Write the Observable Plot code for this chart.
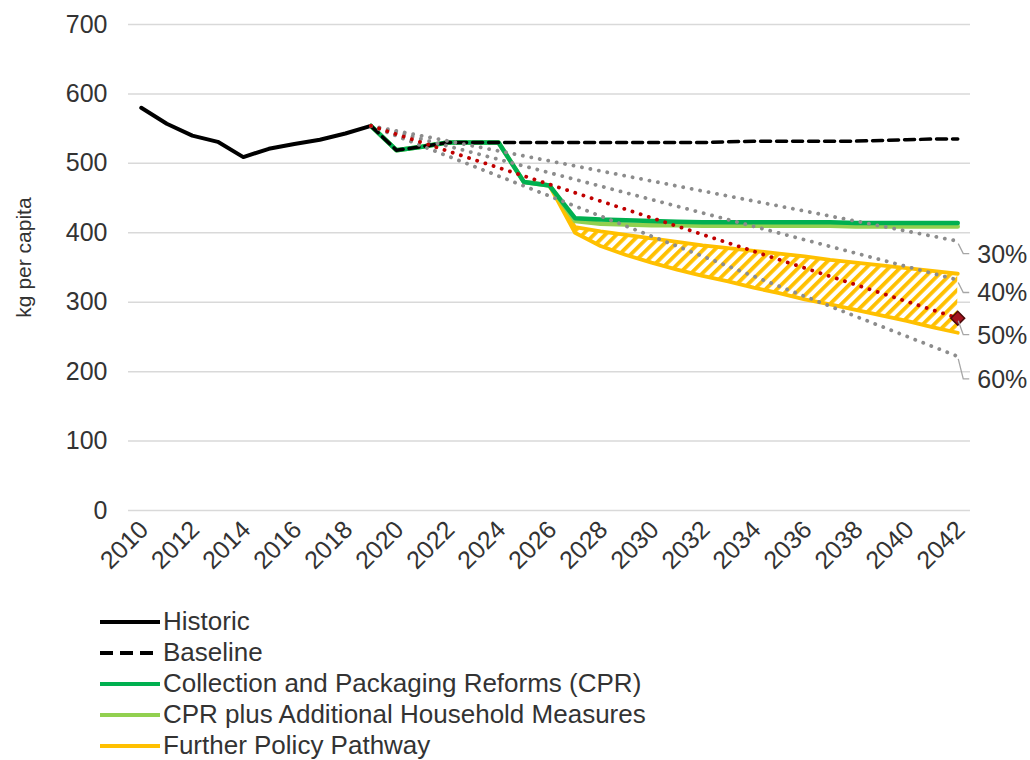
<!DOCTYPE html>
<html>
<head>
<meta charset="utf-8">
<script src="https://cdn.jsdelivr.net/npm/d3@7"></script>
<script src="https://cdn.jsdelivr.net/npm/@observablehq/plot@0.6"></script>
<style>
  body { margin: 0; background: #fff; font-family: "Liberation Sans", Arial, sans-serif; }
  #chart svg { display: block; }
  #legend { margin-left: 100px; color: #333; font-size: 26px; }
  #legend .row { height: 31px; display: flex; align-items: center; }
  #legend svg { display: block; margin-right: 3px; }
</style>
</head>
<body>
<div id="chart"></div>
<div id="legend"></div>
<script>
// ---- data ----
const historicYears = [2010, 2011, 2012, 2013, 2014, 2015, 2016, 2017, 2018, 2019];
const historic = [580, 557, 540, 531, 509, 521, 528, 534, 543, 554];

const projYears = [2019, 2020, 2021, 2022, 2023, 2024, 2025, 2026, 2027, 2028, 2029, 2030,
                   2031, 2032, 2033, 2034, 2035, 2036, 2037, 2038, 2039, 2040, 2041, 2042];
const baseline = [554, 519, 524, 530, 530, 530, 530, 530, 530, 530, 530, 530,
                  530, 530, 531, 532, 532, 532, 532, 532, 533, 534, 535, 535];
const cpr      = [554, 519, 524, 530, 530, 530, 473, 468, 421, 419, 418, 417,
                  416, 415, 415, 415, 415, 415, 415, 414, 414, 414, 414, 414];
const cprPlus  = [554, 519, 524, 530, 530, 530, 473, 468, 417, 413, 412, 411,
                  411, 410, 410, 410, 410, 410, 410, 409, 409, 409, 409, 409];

const fppYears = [2026, 2027, 2028, 2029, 2030, 2031, 2032, 2033, 2034, 2035, 2036, 2037,
                  2038, 2039, 2040, 2041, 2042];
const fppUpper = [468, 408, 402, 397, 392, 387, 382, 378, 374, 370, 366, 361,
                  357, 353, 349, 345, 341];
const fppLower = [468, 400, 381, 368, 357, 347, 338, 330, 321, 313, 304, 297,
                  289, 281, 273, 264, 256];

const targetLabels = ["30%", "40%", "50%", "60%"];
const targetStartYear = 2019;
const targetEndYear = 2042;
const targetStart = 554;
const targetEnd = [388, 332, 277, 222];

const yTicks = [0, 100, 200, 300, 400, 500, 600, 700];
const xTicks = [2010, 2012, 2014, 2016, 2018, 2020, 2022, 2024, 2026, 2028, 2030, 2032,
                2034, 2036, 2038, 2040, 2042];

const legendItems = [
  {label: "Historic", color: "#000000", dash: null},
  {label: "Baseline", color: "#000000", dash: "13,7"},
  {label: "Collection and Packaging Reforms (CPR)", color: "#00B050", dash: null},
  {label: "CPR plus Additional Household Measures", color: "#92D050", dash: null},
  {label: "Further Policy Pathway", color: "#FFC000", dash: null}
];

// ---- tables ----
const hist = historicYears.map((x, i) => ({x, y: historic[i]}));
const proj = projYears.map((x, i) => ({x, base: baseline[i], cpr: cpr[i], plus: cprPlus[i]}));
const fpp = fppYears.map((x, i) => ({x, hi: fppUpper[i], lo: fppLower[i]}));
const targets = targetLabels.flatMap((label, i) => [
  {label, i, x: targetStartYear, y: targetStart},
  {label, i, x: targetEndYear, y: targetEnd[i]}
]);
const grey = targets.filter(d => d.label !== "50%");
const red = targets.filter(d => d.label === "50%");
const ends = targetLabels.map((label, i) => ({label, x: targetEndYear, y: targetEnd[i]}));

// label nudges (pixels) for the end-of-line labels
const nudge = [13, 13, 17, 23];

const font = "Liberation Sans, Arial, sans-serif";

function leaders(index, scales) {
  const g = d3.create("svg:g");
  ends.forEach((d, i) => {
    const x0 = scales.x(d.x), y0 = scales.y(d.y);
    const ly = y0 + nudge[i];
    g.append("path")
      .attr("d", `M${x0 + 1},${y0 + 3}L${x0 + 6},${ly}L${x0 + 12},${ly}`)
      .attr("fill", "none").attr("stroke", "#a6a6a6").attr("stroke-width", 1.3);
    g.append("text")
      .attr("x", x0 + 20).attr("y", ly).attr("dy", "0.36em")
      .attr("text-anchor", "start")
      .attr("font-size", 25).attr("font-family", font).attr("fill", "#333")
      .text(d.label);
  });
  return g.node();
}

const plot = Plot.plot({
  width: 1030,
  height: 606,
  marginLeft: 128,
  marginRight: 60,
  marginTop: 24,
  marginBottom: 96,
  style: {fontFamily: font, fontSize: "25px", color: "#333", background: "white", overflow: "visible"},
  x: {domain: [2009.5, 2042.5], ticks: xTicks, tickFormat: d => String(d)},
  y: {domain: [0, 700], ticks: yTicks},
  marks: [
    Plot.gridY(yTicks, {stroke: "#d9d9d9", strokeOpacity: 1, strokeWidth: 1.5}),
    Plot.axisY(yTicks, {tickSize: 0, tickPadding: 21, fontSize: 25, label: null}),
    Plot.axisX(xTicks, {tickSize: 0, tickPadding: 6, tickRotate: -45, fontSize: 25, label: null, tickFormat: d => String(d)}),
    Plot.text(["kg per capita"], {frameAnchor: "left", dx: -104, dy: -10, rotate: -90, textAnchor: "middle", fontSize: 21, fill: "#333"}),
    Plot.areaY(fpp, {x: "x", y1: "lo", y2: "hi", fill: "url(#hatch)"}),
    Plot.line(fpp, {x: "x", y: "hi", stroke: "#FFC000", strokeWidth: 3.8}),
    Plot.line(fpp, {x: "x", y: "lo", stroke: "#FFC000", strokeWidth: 3.8}),
    Plot.line(proj, {x: "x", y: "plus", stroke: "#92D050", strokeWidth: 4.5}),
    Plot.line(proj, {x: "x", y: "cpr", stroke: "#00B050", strokeWidth: 4.5}),
    Plot.line(proj, {x: "x", y: "base", stroke: "#000", strokeWidth: 3.5, strokeDasharray: "10,6"}),
    Plot.line(hist, {x: "x", y: "y", stroke: "#000", strokeWidth: 4}),
    Plot.line(grey, {x: "x", y: "y", z: "label", stroke: "#8c8c8c", strokeWidth: 3.8, strokeDasharray: "0.1,8.5", strokeLinecap: "round"}),
    Plot.line(red, {x: "x", y: "y", stroke: "#C00000", strokeWidth: 3.8, strokeDasharray: "0.1,8.5", strokeLinecap: "round"}),
    Plot.dot(red.filter(d => d.x === targetEndYear), {x: "x", y: "y", symbol: "square", rotate: 45, r: 5.5, fill: "#A5121E", stroke: "#4a0a0a", strokeWidth: 1.5}),
    leaders
  ]
});

// hatch pattern definition
const ns = "http://www.w3.org/2000/svg";
const defs = document.createElementNS(ns, "defs");
defs.innerHTML = `<pattern id="hatch" width="8" height="8" patternUnits="userSpaceOnUse" patternTransform="rotate(45)">
  <rect width="8" height="8" fill="#ffffff"/><rect width="3.8" height="8" fill="#FFC000"/></pattern>`;
plot.insertBefore(defs, plot.firstChild);

// nudge rotated x tick labels a little lower
const xLabels = plot.querySelector('g[aria-label="x-axis tick label"]');
if (xLabels) {
  const wrap = document.createElementNS(ns, "g");
  wrap.setAttribute("transform", "translate(3,9)");
  xLabels.parentNode.insertBefore(wrap, xLabels);
  wrap.appendChild(xLabels);
}
document.getElementById("chart").appendChild(plot);

// legend
const legend = d3.select("#legend");
legendItems.forEach(item => {
  const row = legend.append("div").attr("class", "row");
  const sw = row.append("svg").attr("width", 60).attr("height", 10);
  sw.append("line").attr("x1", 0).attr("x2", 60).attr("y1", 5).attr("y2", 5)
    .attr("stroke", item.color).attr("stroke-width", 4)
    .attr("stroke-dasharray", item.dash);
  row.append("span").text(item.label);
});
</script>
</body>
</html>
